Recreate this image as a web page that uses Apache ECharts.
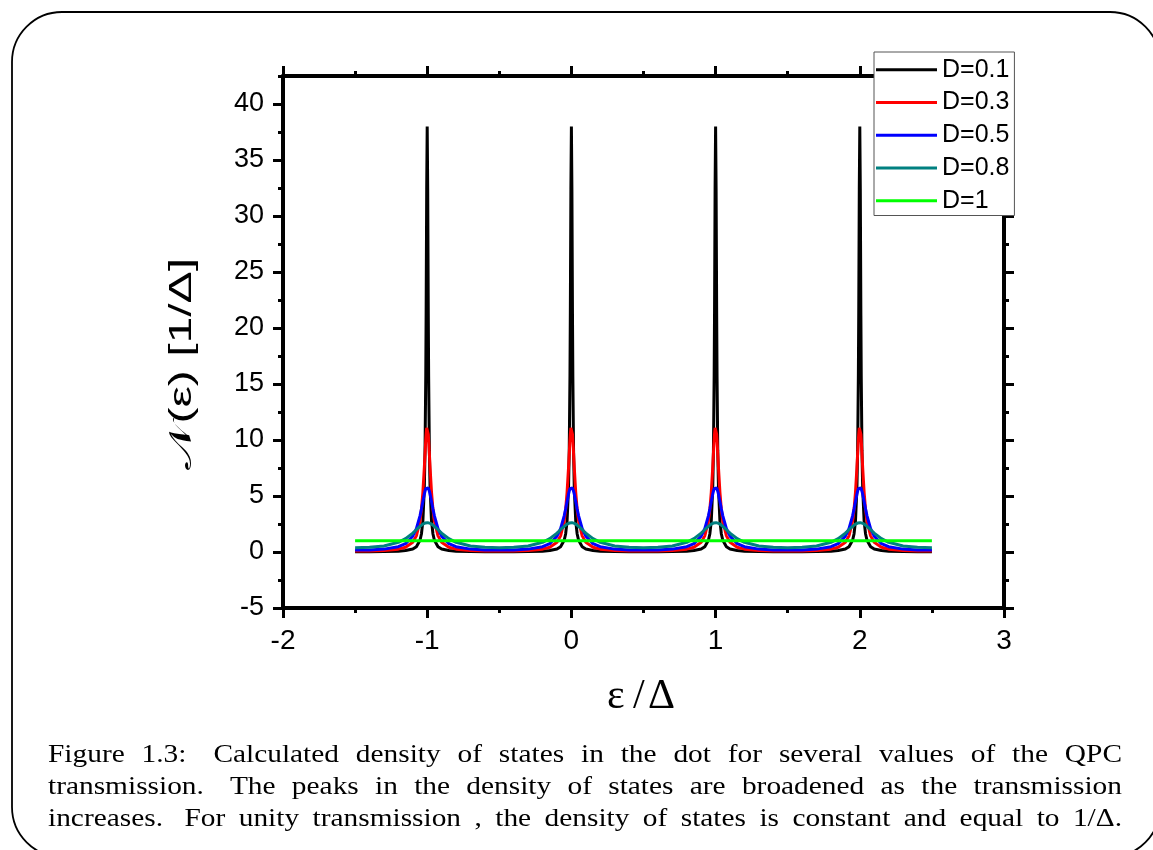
<!DOCTYPE html>
<html>
<head>
<meta charset="utf-8">
<script src="https://cdn.jsdelivr.net/npm/echarts@6/dist/echarts.min.js"></script>
<style>html,body{margin:0;padding:0;background:#fff;}#c{width:1153px;height:850px;}</style>
</head>
<body>
<div id="c"></div>
<script>
// ---- data ----
const peakCenters = [-1, 0, 1, 2];
const offsets = [0, 0.0035, 0.0075, 0.01, 0.015, 0.02, 0.03, 0.04, 0.05, 0.075, 0.1, 0.15, 0.2, 0.3, 0.4, 0.5];
const seriesNames = ['D=0.1', 'D=0.3', 'D=0.5', 'D=0.8', 'D=1'];
const profileD01 = [38.0, 32.4, 21.1, 15.7, 9.05, 5.68, 2.76, 1.61, 1.05, 0.478, 0.274, 0.127, 0.076, 0.040, 0.029, 0.026];
const profileD03 = [11.24, 11.08, 10.51, 10.01, 8.80, 7.52, 5.33, 3.79, 2.76, 1.44, 0.866, 0.419, 0.254, 0.135, 0.098, 0.089];
const profileD05 = [5.83, 5.81, 5.72, 5.65, 5.43, 5.16, 4.51, 3.84, 3.23, 2.08, 1.41, 0.748, 0.470, 0.258, 0.189, 0.172];
const profileD08 = [2.62, 2.62, 2.61, 2.60, 2.58, 2.56, 2.49, 2.40, 2.29, 1.99, 1.68, 1.19, 0.866, 0.542, 0.416, 0.382];
const profileD1 = [1, 1, 1, 1, 1, 1, 1, 1, 1, 1, 1, 1, 1, 1, 1, 1];
const xTicks = [-2, -1, 0, 1, 2, 3];
const yTicks = [-5, 0, 5, 10, 15, 20, 25, 30, 35, 40];
const captionLines = [
  'Figure 1.3: Calculated density of states in the dot for several values of the QPC',
  'transmission. The peaks in the density of states are broadened as the transmission',
  'increases. For unity transmission , the density of states is constant and equal to 1/Δ.'
];

// ---- build series from the profiles around each peak ----
function buildSeries(profile) {
  const pts = [];
  const n = offsets.length;
  peakCenters.forEach((p, i) => {
    for (let k = n - 1; k >= 1; k--) {
      if (i > 0 && k === n - 1) continue;
      pts.push([p - offsets[k], profile[k]]);
    }
    pts.push([p, profile[0]]);
    for (let k = 1; k < n; k++) pts.push([p + offsets[k], profile[k]]);
  });
  return pts;
}
const profiles = [profileD01, profileD03, profileD05, profileD08, profileD1];
const colors = ['#000000', '#ff0000', '#0000ff', '#008080', '#00ff00'];

const chart = echarts.init(document.getElementById('c'), null, {renderer: 'canvas'});

const AX = '#000';
const sansFont = '"Liberation Sans", Arial, sans-serif';
const serifFont = '"Liberation Serif", "Times New Roman", serif';

const xMin = -2, xMax = 3, yMin = -5, yMax = 42.5;

function xAxisDef(pos, showLabel) {
  return {
    type: 'value', position: pos, min: xMin, max: xMax, interval: 1, gridIndex: 0,
    axisLine: {show: true, onZero: false, lineStyle: {color: AX, width: 4}},
    axisTick: {show: true, inside: false, length: 10, customValues: xTicks, lineStyle: {color: AX, width: 3}},
    minorTick: {show: true, splitNumber: 2, length: 5, lineStyle: {color: AX, width: 3}},
    splitLine: {show: false}, minorSplitLine: {show: false},
    axisLabel: {show: showLabel, color: '#000', fontSize: 28, fontFamily: sansFont, margin: 19}
  };
}
function yMinorAxis(pos, showLabel) {
  return {
    type: 'value', position: pos, min: yMin, max: yMax, interval: 2.5, gridIndex: 0,
    axisLine: {show: true, onZero: false, lineStyle: {color: AX, width: 4}},
    axisTick: {show: true, inside: false, length: 5, lineStyle: {color: AX, width: 3}},
    splitLine: {show: false},
    axisLabel: {show: showLabel, color: '#000', fontSize: 27, fontFamily: sansFont, margin: 19,
      formatter: v => (yTicks.indexOf(v) >= 0 ? String(v) : '')}
  };
}
function yMajorAxis(pos) {
  return {
    type: 'value', position: pos, min: yMin, max: yMax, interval: 5, gridIndex: 0,
    axisLine: {show: false, onZero: false},
    axisTick: {show: true, inside: false, length: 10, customValues: yTicks, lineStyle: {color: AX, width: 3}},
    splitLine: {show: false},
    axisLabel: {show: false}
  };
}

// justified caption words (horizontally widened serif to mimic the LaTeX face)
const meas = document.createElement('canvas').getContext('2d');
const capFontSize = 26;
const capScaleX = 1.13;
const capFont = capFontSize + 'px ' + serifFont;
meas.font = capFont;
const capLeft = 48, capRight = 1122;
const capCenters = [755, 787, 819];
const captionGraphics = [];
captionLines.forEach((line, li) => {
  const words = line.split(' ');
  const widths = words.map(w => meas.measureText(w).width * capScaleX);
  const total = widths.reduce((a, b) => a + b, 0);
  // sentence-end gaps are wider, as in TeX
  const weights = words.slice(0, -1).map(w => (/[.:]$/.test(w) && w !== '1.3' ? 1.6 : 1));
  const wsum = weights.reduce((a, b) => a + b, 0);
  const unit = (capRight - capLeft - total) / wsum;
  let x = capLeft;
  words.forEach((w, wi) => {
    captionGraphics.push({
      type: 'text', x: x, y: capCenters[li], scaleX: capScaleX, silent: true,
      style: {text: w, font: capFont, fill: '#000', textAlign: 'left', textVerticalAlign: 'middle'}
    });
    if (wi < weights.length) x += widths[wi] + unit * weights[wi];
  });
});

const option = {
  animation: false,
  backgroundColor: '#fff',
  grid: {left: 283, right: 149, top: 76, bottom: 242, containLabel: false, outerBoundsMode: 'none'},
  xAxis: [
    xAxisDef('bottom', true),
    xAxisDef('top', false)
  ],
  yAxis: [
    yMinorAxis('left', true),
    yMajorAxis('left'),
    yMinorAxis('right', false),
    yMajorAxis('right')
  ],
  legend: {
    show: true, orient: 'vertical', left: 874, top: 52,
    icon: 'rect', itemWidth: 61, itemHeight: 3, itemGap: 5,
    padding: [4, 5, 1, 2],
    backgroundColor: '#fff', borderColor: '#555', borderWidth: 1, borderRadius: 0,
    textStyle: {fontSize: 25, fontFamily: sansFont, color: '#000', lineHeight: 27.7},
    data: seriesNames, z: 10
  },
  series: profiles.map((pr, i) => ({
    name: seriesNames[i], type: 'line', xAxisIndex: 0, yAxisIndex: 0,
    data: buildSeries(pr), showSymbol: false, symbol: 'none', smooth: false,
    lineStyle: {color: colors[i], width: 3}, itemStyle: {color: colors[i]},
    z: 2 + i
  })),
  graphic: [
    {type: 'rect', silent: true, z: -10,
      shape: {x: 12, y: 12, width: 1148, height: 845, r: 50},
      style: {fill: 'none', stroke: '#000', lineWidth: 1.8}},
    {type: 'text', x: 182, y: 364, rotation: Math.PI / 2, scaleX: 1.55, silent: true,
      style: {text: '𝒩(ε) [1/Δ]', font: '31px ' + sansFont, fill: '#000', textAlign: 'center', textVerticalAlign: 'middle'}},
    {type: 'text', x: 641, y: 697, silent: true,
      style: {text: 'ε\u2009/\u200aΔ', font: '42px ' + serifFont, fill: '#000', textAlign: 'center', textVerticalAlign: 'middle'}}
  ].concat(captionGraphics)
};
chart.setOption(option);
</script>
</body>
</html>
